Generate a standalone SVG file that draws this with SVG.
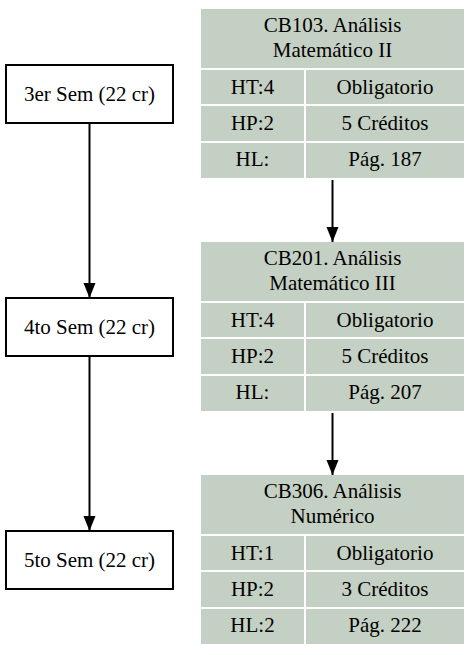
<svg xmlns="http://www.w3.org/2000/svg" width="472" height="655" viewBox="0 0 472 655">
<style>
text{font-family:'Liberation Serif','Tinos','Times New Roman','DejaVu Serif',serif;font-size:21px;fill:#000;text-anchor:middle}
.cell{fill:#c5d0c4}
.box{fill:#fff;stroke:#000;stroke-width:2}
.edge{stroke:#000;stroke-width:2;fill:none}
</style>
<defs>
<marker id="ah" markerUnits="userSpaceOnUse" markerWidth="16" markerHeight="13" refX="15" refY="6.5" orient="auto">
<path d="M0,0.5 L15,6.5 L0,12.5 z" fill="#000"/>
</marker>
</defs>
<rect width="472" height="655" fill="#fff"/>
<g font-family="Liberation Serif, serif">
<g id="sem3">
<rect class="box" x="6" y="65" width="167" height="58"/>
<text x="89.5" y="101">3er Sem (22 cr)</text>
</g>
<g id="sem4">
<rect class="box" x="6" y="298" width="167" height="58"/>
<text x="89.5" y="334">4to Sem (22 cr)</text>
</g>
<g id="sem5">
<rect class="box" x="6" y="531" width="167" height="58"/>
<text x="89.5" y="567">5to Sem (22 cr)</text>
</g>
<g id="CB103">
<rect class="cell" x="201" y="9" width="263" height="59"/>
<rect class="cell" x="201" y="70" width="103" height="34"/>
<rect class="cell" x="306" y="70" width="158" height="34"/>
<rect class="cell" x="201" y="106" width="103" height="35"/>
<rect class="cell" x="306" y="106" width="158" height="35"/>
<rect class="cell" x="201" y="143" width="103" height="35"/>
<rect class="cell" x="306" y="143" width="158" height="35"/>
<text x="332.5" y="32">CB103. Análisis</text>
<text x="332.5" y="57">Matemático II</text>
<text x="252.5" y="94">HT:4</text>
<text x="385" y="94">Obligatorio</text>
<text x="252.5" y="130">HP:2</text>
<text x="385" y="130">5 Créditos</text>
<text x="252.5" y="166">HL:</text>
<text x="385" y="166">Pág. 187</text>
</g>
<g id="CB201">
<rect class="cell" x="201" y="242" width="263" height="59"/>
<rect class="cell" x="201" y="303" width="103" height="34"/>
<rect class="cell" x="306" y="303" width="158" height="34"/>
<rect class="cell" x="201" y="339" width="103" height="35"/>
<rect class="cell" x="306" y="339" width="158" height="35"/>
<rect class="cell" x="201" y="376" width="103" height="35"/>
<rect class="cell" x="306" y="376" width="158" height="35"/>
<text x="332.5" y="265">CB201. Análisis</text>
<text x="332.5" y="290">Matemático III</text>
<text x="252.5" y="327">HT:4</text>
<text x="385" y="327">Obligatorio</text>
<text x="252.5" y="363">HP:2</text>
<text x="385" y="363">5 Créditos</text>
<text x="252.5" y="399">HL:</text>
<text x="385" y="399">Pág. 207</text>
</g>
<g id="CB306">
<rect class="cell" x="201" y="475" width="263" height="59"/>
<rect class="cell" x="201" y="536" width="103" height="34"/>
<rect class="cell" x="306" y="536" width="158" height="34"/>
<rect class="cell" x="201" y="572" width="103" height="35"/>
<rect class="cell" x="306" y="572" width="158" height="35"/>
<rect class="cell" x="201" y="609" width="103" height="35"/>
<rect class="cell" x="306" y="609" width="158" height="35"/>
<text x="332.5" y="498">CB306. Análisis</text>
<text x="332.5" y="523">Numérico</text>
<text x="252.5" y="560">HT:1</text>
<text x="385" y="560">Obligatorio</text>
<text x="252.5" y="596">HP:2</text>
<text x="385" y="596">3 Créditos</text>
<text x="252.5" y="632">HL:2</text>
<text x="385" y="632">Pág. 222</text>
</g>
</g>
<g id="connectors">
<line class="edge" x1="89.5" y1="123" x2="89.5" y2="298" marker-end="url(#ah)"/>
<line class="edge" x1="89.5" y1="356" x2="89.5" y2="531" marker-end="url(#ah)"/>
<line class="edge" x1="332.5" y1="180" x2="332.5" y2="242" marker-end="url(#ah)"/>
<line class="edge" x1="332.5" y1="413" x2="332.5" y2="475" marker-end="url(#ah)"/>
</g>
</svg>
